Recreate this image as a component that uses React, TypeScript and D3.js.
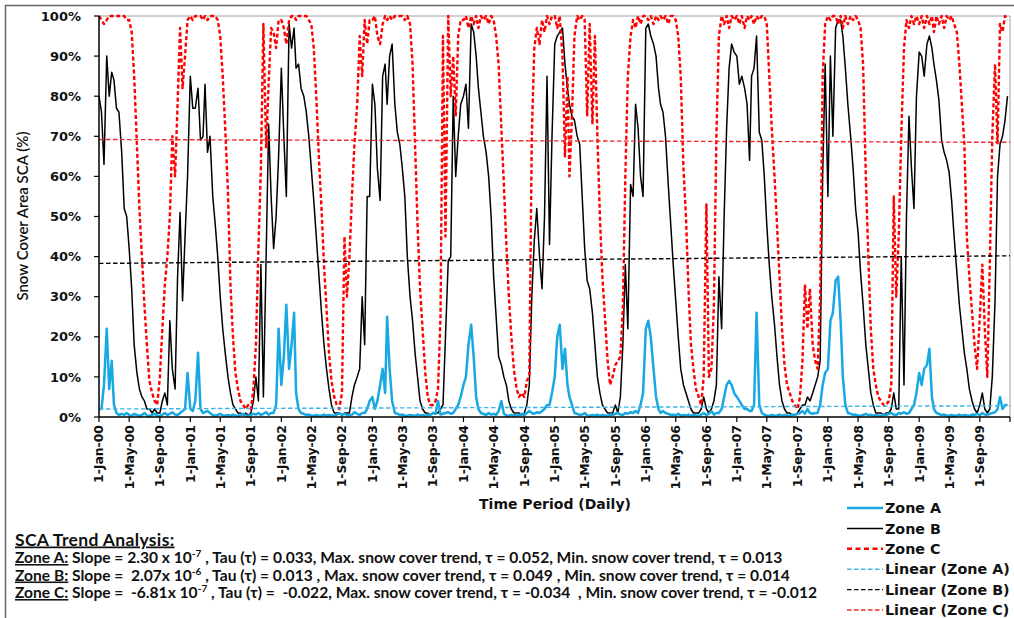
import React from "react";
import * as d3 from "d3";

// ---------------- DATA (values in %, 3 readings per month: day 1, 11, 21) ----------------
const years = [2000, 2001, 2002, 2003, 2004, 2005, 2006, 2007, 2008, 2009];
const dekadStartDays = [1, 11, 21];

const zoneA: number[][] = [
  [2, 2, 8, 22, 7, 14, 3, 1, 0.5, 0.8, 0.5, 1, 0.5, 0.3, 0.8, 0.5, 0.3, 0.5, 1, 0.4, 0.3, 0.5, 0.8, 0.4, 0.3, 0.6, 1, 0.5, 0.8, 1.2, 0.6, 0.5, 1, 1.5, 2, 11],
  [2, 1.5, 4, 16, 2, 1, 1.2, 1.5, 1, 0.5, 0.3, 0.5, 0.8, 0.4, 0.3, 0.5, 0.3, 0.6, 0.4, 0.3, 0.5, 0.8, 0.4, 0.3, 0.5, 0.8, 0.6, 1, 0.5, 0.8, 1.2, 0.6, 1, 1, 3, 22],
  [8, 15, 28, 12, 18, 26, 6, 2, 1, 0.8, 0.5, 0.6, 0.4, 0.3, 0.5, 0.3, 0.4, 0.6, 0.3, 0.5, 0.4, 0.3, 0.6, 1, 0.5, 0.8, 0.5, 0.4, 0.6, 1.2, 0.8, 0.5, 1, 1, 2, 4],
  [5, 2, 4, 8, 12, 6, 25, 12, 4, 1, 0.8, 0.5, 0.6, 0.4, 0.3, 0.5, 0.4, 0.3, 0.6, 0.4, 0.5, 0.3, 0.6, 0.5, 1, 0.8, 4, 0.6, 0.8, 1, 1.2, 0.8, 1, 2, 3, 5],
  [8, 10, 18, 23, 15, 5, 2, 1, 0.8, 0.5, 1, 0.6, 0.8, 0.5, 1.5, 4, 0.8, 0.4, 0.3, 0.5, 0.3, 0.6, 0.4, 0.8, 0.5, 1, 1.5, 1, 0.8, 1.2, 1, 1.5, 2, 3, 3, 6],
  [10, 20, 23, 12, 17, 8, 5, 3, 1, 0.8, 0.5, 0.6, 1, 0.4, 0.3, 0.5, 0.4, 0.6, 0.3, 0.5, 0.4, 0.3, 0.6, 0.5, 0.8, 1, 0.6, 0.5, 1, 0.8, 1.2, 1, 1.5, 1, 3, 6],
  [22, 24, 20, 12, 5, 2, 1, 1.5, 1, 0.8, 0.5, 0.6, 0.4, 0.8, 0.3, 0.5, 0.4, 0.6, 0.3, 0.5, 0.4, 0.3, 0.6, 1, 0.5, 0.8, 1.5, 0.6, 1, 1, 2, 5, 8, 9, 8, 6],
  [5, 4, 3, 2, 2, 1.5, 1.5, 3, 26, 3, 1, 0.6, 0.4, 0.3, 0.5, 0.3, 0.4, 0.6, 0.3, 0.5, 0.4, 0.3, 0.6, 0.5, 0.8, 1, 1.5, 0.8, 2, 1, 0.8, 1, 1, 3, 8, 11],
  [12, 24, 26, 34, 35, 24, 10, 3, 1, 0.8, 0.5, 0.6, 0.4, 0.3, 0.5, 0.8, 0.4, 0.6, 0.3, 0.5, 0.4, 0.3, 0.6, 0.5, 0.8, 1, 0.6, 0.5, 1, 0.8, 1.2, 0.8, 1, 2, 3, 6],
  [11, 8, 12, 13, 17, 5, 2, 1, 0.8, 0.5, 0.6, 0.4, 0.3, 0.5, 0.3, 0.4, 0.6, 0.3, 0.5, 0.4, 0.3, 0.6, 0.5, 0.8, 0.4, 1, 0.6, 0.5, 0.8, 1, 1.2, 2, 5, 2, 3, 3],
];

const zoneB: number[][] = [
  [80, 76, 63, 90, 80, 86, 84, 77, 76, 66, 52, 50, 42, 32, 18, 11, 7, 5, 4, 2, 2, 1, 2, 1, 1, 4, 6, 3, 24, 12, 7, 35, 51, 29, 45, 60],
  [85, 77, 77, 82, 69, 70, 83, 66, 70, 55, 48, 40, 30, 22, 16, 10, 6, 3, 2, 1, 1, 0.5, 1, 0.5, 1, 4, 10, 4, 38, 5, 40, 73, 55, 42, 50, 65],
  [87, 70, 55, 98, 92, 97, 87, 88, 82, 80, 76, 70, 62, 54, 45, 35, 26, 18, 12, 7, 3, 1, 1, 1, 0.5, 1, 1, 1, 5, 8, 10, 12, 30, 18, 55, 55],
  [83, 78, 62, 54, 85, 88, 78, 90, 93, 78, 71, 68, 62, 55, 40, 30, 24, 16, 10, 4, 2, 1, 1, 0.5, 1, 1, 1, 2, 3, 20, 39, 40, 80, 60, 70, 78],
  [80, 83, 72, 98, 96, 90, 82, 76, 70, 66, 60, 50, 35, 25, 15, 13, 10, 8, 4, 2, 1, 1, 1, 0.5, 1, 3, 8, 30, 44, 52, 40, 32, 50, 85, 43, 70],
  [93, 95, 96, 97, 88, 82, 78, 75, 74, 70, 68, 55, 42, 34, 32, 26, 18, 10, 6, 3, 2, 1, 1, 1, 3, 1, 5, 18, 38, 22, 58, 55, 78, 72, 60, 55],
  [97, 98, 95, 93, 90, 82, 78, 76, 70, 58, 48, 38, 29, 20, 12, 8, 6, 4, 2, 1, 1, 1, 2, 5, 2, 1, 2, 4, 8, 35, 22, 50, 72, 87, 93, 91],
  [90, 83, 85, 82, 78, 64, 85, 87, 95, 71, 69, 60, 48, 38, 30, 23, 15, 8, 4, 2, 1, 1, 0.5, 0.5, 1, 2, 3, 3, 5, 4, 6, 8, 10, 14, 60, 88],
  [55, 90, 70, 97, 99, 99, 95, 87, 78, 70, 62, 52, 46, 36, 28, 18, 12, 6, 3, 1, 1, 1, 0.5, 1, 1, 2, 6, 2, 2, 40, 8, 50, 75, 62, 52, 80],
  [91, 90, 85, 93, 95, 92, 88, 84, 79, 69, 66, 64, 61, 54, 45, 36, 28, 22, 16, 12, 7, 4, 2, 1, 3, 6, 2, 1, 2, 10, 29, 60, 68, 70, 74, 80],
];

const zoneC: number[][] = [
  [100, 99, 98, 99, 100, 100, 100, 100, 100, 100, 100, 99, 99, 96, 85, 68, 52, 40, 28, 18, 9, 6, 4, 3, 10, 22, 33, 40, 50, 70, 60, 78, 97, 82, 90, 99],
  [100, 99, 100, 100, 100, 99, 100, 99, 100, 100, 100, 99, 95, 85, 72, 56, 33, 20, 11, 7, 4, 3, 2, 3, 2, 7, 18, 42, 62, 98, 67, 83, 97, 96, 92, 99],
  [99, 97, 93, 99, 100, 100, 99, 100, 100, 100, 100, 99, 98, 92, 80, 64, 52, 38, 27, 16, 9, 5, 3, 2, 6, 45, 30, 40, 55, 68, 78, 95, 85, 99, 93, 99],
  [99, 100, 95, 93, 98, 100, 99, 100, 99, 100, 100, 100, 100, 99, 100, 98, 88, 68, 48, 32, 22, 11, 5, 3, 3, 4, 7, 25, 95, 45, 100, 80, 90, 75, 95, 99],
  [99, 100, 97, 100, 98, 100, 97, 100, 99, 100, 98, 100, 99, 95, 88, 72, 58, 43, 30, 20, 12, 7, 5, 6, 5, 9, 10, 70, 92, 97, 93, 99, 96, 100, 98, 100],
  [100, 97, 100, 90, 65, 85, 60, 75, 95, 100, 99, 100, 99, 75, 98, 73, 95, 70, 50, 35, 25, 14, 8, 10, 13, 14, 15, 27, 60, 85, 95, 99, 97, 100, 98, 100],
  [100, 99, 100, 98, 100, 99, 100, 99, 100, 98, 100, 100, 99, 95, 85, 62, 50, 32, 18, 12, 7, 5, 3, 10, 53, 10, 12, 28, 70, 95, 100, 98, 100, 97, 100, 99],
  [100, 98, 100, 97, 100, 99, 100, 98, 100, 99, 100, 100, 98, 85, 72, 60, 48, 35, 22, 13, 8, 6, 4, 3, 2, 5, 14, 33, 22, 32, 18, 14, 12, 30, 85, 98],
  [100, 99, 100, 100, 98, 100, 97, 100, 98, 100, 99, 100, 99, 97, 88, 60, 40, 22, 12, 8, 5, 4, 3, 3, 4, 8, 55, 30, 45, 70, 92, 99, 97, 100, 98, 100],
  [98, 100, 97, 100, 98, 100, 96, 100, 98, 100, 97, 100, 99, 100, 98, 96, 88, 78, 68, 45, 35, 26, 18, 12, 25, 38, 22, 10, 38, 70, 88, 68, 98, 96, 100, 99],
];

// linear trend lines: value at start and at end of the period (%)
const trendA = [2.0, 2.8];
const trendB = [38.3, 40.2];
const trendC = [69.2, 68.5];

const yTicks = [0, 10, 20, 30, 40, 50, 60, 70, 80, 90, 100];
const periodStart = new Date(2000, 0, 1);
const periodEnd = new Date(2009, 11, 31);

const legendLabels = ["Zone A", "Zone B", "Zone C", "Linear (Zone A)", "Linear (Zone B)", "Linear (Zone C)"];

// ---------------- STYLE ----------------
const BLUE = "#18a8e2";
const RED = "#ff0000";
const BOLD_FONT = "'DejaVu Sans', Verdana, sans-serif";
const BODY_FONT = "Lato, Calibri, sans-serif";

const styles = [
  { stroke: BLUE, width: 2.5, dash: "" },
  { stroke: "#000", width: 1.5, dash: "" },
  { stroke: RED, width: 2.4, dash: "4,2.5" },
  { stroke: "#3fb3e6", width: 1.4, dash: "4.5,2.5" },
  { stroke: "#000", width: 1.4, dash: "4.5,2.5" },
  { stroke: "#f0282d", width: 1.4, dash: "4.5,2.5" },
];

type Pt = [Date, number];

function toPoints(zone: number[][]): Pt[] {
  const pts: Pt[] = [];
  years.forEach((yr, i) => {
    zone[i].forEach((v, k) => {
      pts.push([new Date(yr, Math.floor(k / 3), dekadStartDays[k % 3]), v]);
    });
  });
  return pts;
}

const PL = 99, PR = 1010, PT = 16, PB = 417;

export default function App() {
  const x = d3.scaleTime().domain([periodStart, periodEnd]).range([PL, PR]);
  const y = d3.scaleLinear().domain([0, 100]).range([PB, PT]);
  const line = d3
    .line<Pt>()
    .x((d) => x(d[0]))
    .y((d) => y(d[1]));

  const series = [toPoints(zoneA), toPoints(zoneB), toPoints(zoneC)];
  const trends = [trendA, trendB, trendC].map(
    (t) => [[periodStart, t[0]], [periodEnd, t[1]]] as Pt[]
  );
  const xTicks = x.ticks(d3.timeMonth.every(4) as any);
  const fmt = d3.timeFormat("%-d-%b-%y");

  const legendX1 = 847, legendX2 = 883;
  const legendY0 = 508, legendStep = 20.4;

  const sup = (s: string) => (
    <>
      <tspan dy={-6} fontSize={10}>{s}</tspan>
      <tspan dy={6}> </tspan>
    </>
  );

  const bodySize = 15.6;

  return (
    <svg
      width={1014}
      height={618}
      style={{ position: "absolute", left: 0, top: 0, background: "#fff" }}
    >
      <rect x={0} y={0} width={1014} height={618} fill="#fff" />
      {/* outer frame */}
      <line x1={5} y1={5.5} x2={1014} y2={5.5} stroke="#666" strokeWidth={1.5} />
      <line x1={5.5} y1={5} x2={5.5} y2={618} stroke="#666" strokeWidth={1.5} />

      {/* plot border */}
      <line x1={PL} y1={PT} x2={PR} y2={PT} stroke="#a0a0a0" strokeWidth={1} />
      <line x1={PR} y1={PT} x2={PR} y2={PB} stroke="#a0a0a0" strokeWidth={1} />

      {/* series */}
      <g fill="none" strokeLinejoin="round">
        <path d={line(series[1]) || ""} stroke={styles[1].stroke} strokeWidth={styles[1].width} />
        <path d={line(series[2]) || ""} stroke={styles[2].stroke} strokeWidth={styles[2].width} strokeDasharray={styles[2].dash} />
        <path d={line(series[0]) || ""} stroke={styles[0].stroke} strokeWidth={styles[0].width} />
        {trends.map((t, i) => (
          <path key={i} d={line(t) || ""} stroke={styles[3 + i].stroke} strokeWidth={styles[3 + i].width} strokeDasharray={styles[3 + i].dash} />
        ))}
      </g>

      {/* y axis */}
      <line x1={PL} y1={PT} x2={PL} y2={PB} stroke="#000" strokeWidth={1.5} />
      {yTicks.map((t) => (
        <g key={t}>
          <line x1={PL - 5} x2={PL} y1={y(t)} y2={y(t)} stroke="#000" strokeWidth={1.2} />
          <text x={81} y={y(t)} dy="0.36em" textAnchor="end" fontFamily={BOLD_FONT} fontWeight="bold" fontSize={13} fill="#111">
            {t}%
          </text>
        </g>
      ))}
      <text
        transform={`translate(28,216) rotate(-90)`}
        textAnchor="middle"
        fontFamily={BODY_FONT}
        fontSize={15}
        fontWeight={600}
        fill="#111"
      >
        Snow Cover Area SCA (%)
      </text>

      {/* x axis */}
      <line x1={PL} y1={PB} x2={PR} y2={PB} stroke="#000" strokeWidth={1.5} />
      <line x1={PR} y1={PB} x2={PR} y2={PB + 5} stroke="#000" strokeWidth={1.2} />
      {xTicks.map((t, i) => (
        <g key={i}>
          <line x1={x(t)} x2={x(t)} y1={PB} y2={PB + 5} stroke="#000" strokeWidth={1.2} />
          <text
            transform={`translate(${x(t)},425) rotate(-90)`}
            textAnchor="end"
            dy="0.36em"
            fontFamily={BOLD_FONT}
            fontWeight="bold"
            fontSize={12.4}
            fill="#111"
          >
            {fmt(t)}
          </text>
        </g>
      ))}
      <text x={555} y={509} textAnchor="middle" fontFamily={BOLD_FONT} fontWeight="bold" fontSize={14} fill="#111">
        Time Period (Daily)
      </text>

      {/* legend */}
      {legendLabels.map((lab, i) => {
        const ly = legendY0 + i * legendStep;
        const st = styles[i];
        return (
          <g key={lab}>
            <line x1={legendX1} x2={legendX2} y1={ly} y2={ly} stroke={st.stroke} strokeWidth={i < 3 ? (i === 1 ? 1.5 : 2.4) : 1.4} strokeDasharray={i === 2 ? "5,3.5" : st.dash ? "4.5,2.5" : ""} />
            <text x={885} y={ly} dy="0.36em" fontFamily={BOLD_FONT} fontWeight="bold" fontSize={14.3} fill="#111">
              {lab}
            </text>
          </g>
        );
      })}

      {/* trend analysis text */}
      <g fontFamily={BODY_FONT} fill="#111">
        <text x={15} y={545.5} fontSize={17.5} fontWeight="bold" textDecoration="underline" letterSpacing={0.35}>
          SCA Trend Analysis:
        </text>
        <text x={15} y={563} fontSize={bodySize} fontWeight="bold" xmlSpace="preserve">
          <tspan textDecoration="underline">Zone A:</tspan>
          <tspan> Slope = 2.30 x 10</tspan>
          {sup("-7")}
          <tspan>, Tau (τ) = 0.033, Max. snow cover trend, τ = 0.052, Min. snow cover trend, τ = 0.013</tspan>
        </text>
        <text x={15} y={580.5} fontSize={bodySize} fontWeight="bold" xmlSpace="preserve">
          <tspan textDecoration="underline">Zone B:</tspan>
          <tspan> Slope =  2.07x 10</tspan>
          {sup("-6")}
          <tspan>, Tau (τ) = 0.013 , Max. snow cover trend, τ = 0.049 , Min. snow cover trend, τ = 0.014</tspan>
        </text>
        <text x={15} y={598} fontSize={bodySize} fontWeight="bold" xmlSpace="preserve">
          <tspan textDecoration="underline">Zone C:</tspan>
          <tspan> Slope =  -6.81x 10</tspan>
          {sup("-7")}
          <tspan>, Tau (τ) =  -0.022, Max. snow cover trend, τ = -0.034  , Min. snow cover trend, τ = -0.012</tspan>
        </text>
      </g>
    </svg>
  );
}
